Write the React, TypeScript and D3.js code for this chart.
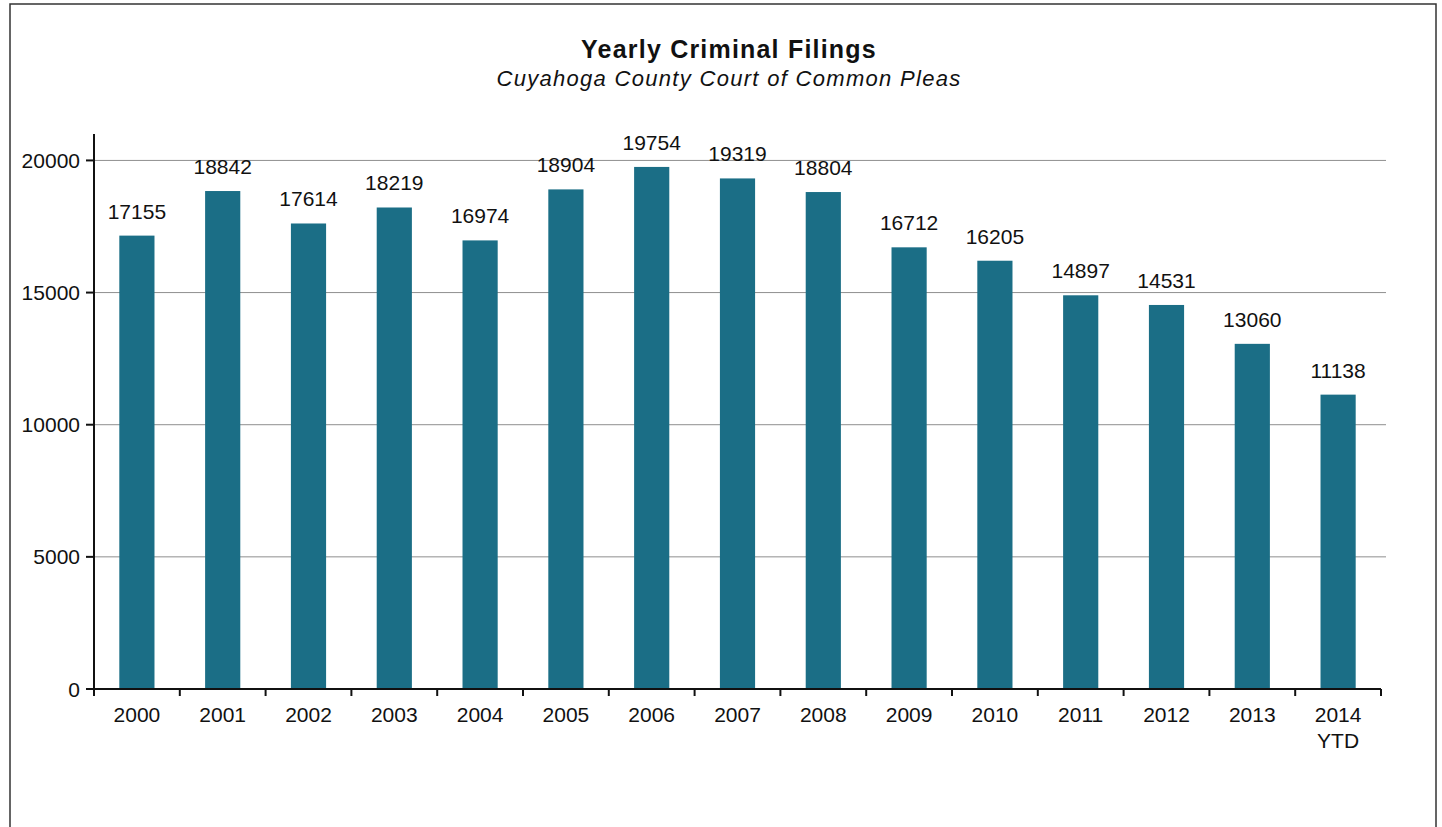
import React from "react";
import * as d3 from "d3";

const years = ["2000","2001","2002","2003","2004","2005","2006","2007","2008","2009","2010","2011","2012","2013","2014"];
const yearSub = ["","","","","","","","","","","","","","","YTD"];
const filings = [17155,18842,17614,18219,16974,18904,19754,19319,18804,16712,16205,14897,14531,13060,11138];
const yTicks = [0,5000,10000,15000,20000];
const title = "Yearly Criminal Filings";
const subtitle = "Cuyahoga County Court of Common Pleas";

const BAR = "#1b6e86";
const FONT = "'Liberation Sans', Arial, sans-serif";

export default function App() {
  const W = 1442, H = 827;
  const left = 94, right = 1381, y0 = 689, yTop = 134;
  const x = d3.scaleBand<string>().domain(years).range([left, right]).paddingInner(0.59).paddingOuter(0.295);
  const y = d3.scaleLinear().domain([0, 21000]).range([y0, yTop]);
  const step = x.step();
  const boundaries = d3.range(years.length + 1).map(i => left + i * step);

  return (
    <svg width={W} height={H} style={{ position: "absolute", left: 0, top: 0, background: "#fff" }} fontFamily={FONT}>
      <rect x={0} y={0} width={W} height={H} fill="#fff" />
      <rect x={10} y={4} width={1426} height={900} fill="none" stroke="#333" strokeWidth={1.5} />
      <text x={729} y={58} textAnchor="middle" fontSize={25} fontWeight="bold" fill="#111" letterSpacing={1.2}>{title}</text>
      <text x={729} y={86} textAnchor="middle" fontSize={22} fontStyle="italic" fill="#111" letterSpacing={1.3}>{subtitle}</text>

      {yTicks.filter(t => t > 0).map(t => (
        <line key={"g" + t} x1={left} x2={1386} y1={y(t)} y2={y(t)} stroke="#8f8f8f" strokeWidth={1} />
      ))}

      {filings.map((v, i) => (
        <g key={years[i]}>
          <rect x={x(years[i])} y={y(v)} width={x.bandwidth()} height={y0 - y(v)} fill={BAR} />
          <text x={(x(years[i]) as number) + x.bandwidth() / 2} y={y(v) - 17} textAnchor="middle" fontSize={21} fill="#111">{v}</text>
        </g>
      ))}

      <line x1={left} x2={left} y1={yTop} y2={y0} stroke="#111" strokeWidth={2} />
      <line x1={left} x2={right} y1={y0} y2={y0} stroke="#111" strokeWidth={2} />
      {yTicks.map(t => (
        <g key={"t" + t}>
          <line x1={left - 8} x2={left} y1={y(t)} y2={y(t)} stroke="#111" strokeWidth={2} />
          <text x={80} y={y(t) + 7.5} textAnchor="end" fontSize={21} fill="#111">{t}</text>
        </g>
      ))}
      {boundaries.map((b, i) => (
        <line key={"b" + i} x1={b} x2={b} y1={y0} y2={y0 + 7} stroke="#111" strokeWidth={2} />
      ))}
      {years.map((yr, i) => (
        <g key={"l" + yr}>
          <text x={(x(yr) as number) + x.bandwidth() / 2} y={722} textAnchor="middle" fontSize={21} fill="#111">{yr}</text>
          {yearSub[i] && (
            <text x={(x(yr) as number) + x.bandwidth() / 2} y={748} textAnchor="middle" fontSize={21} fill="#111">{yearSub[i]}</text>
          )}
        </g>
      ))}
    </svg>
  );
}
